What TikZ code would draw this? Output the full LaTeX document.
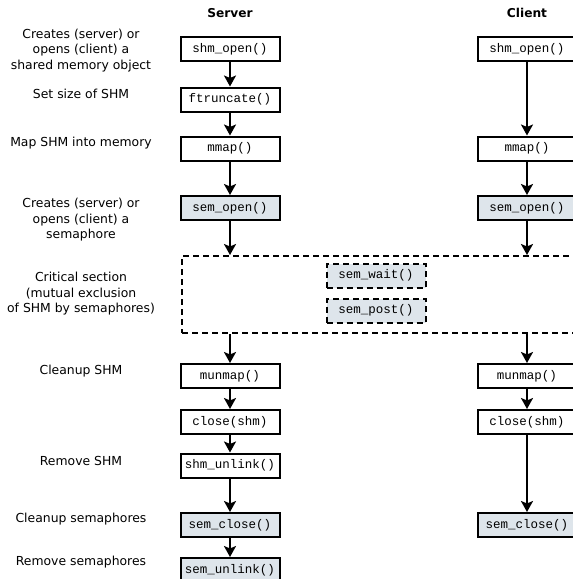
\documentclass[tikz,border=0pt]{standalone}
\usepackage{fontspec}
\setmainfont{DejaVu Sans}
\newfontfamily\codefont{Liberation Mono}
\usetikzlibrary{arrows.meta,positioning}
\definecolor{semfill}{RGB}{222,229,235}
\tikzset{
  fn/.style={draw, line width=2pt, minimum width=99pt, minimum height=24pt,
    inner sep=0pt, font=\codefont\fontsize{12.5}{14}\selectfont, fill=white},
  semfn/.style={fn, fill=semfill},
  dashfn/.style={fn, fill=semfill, dash pattern=on 6pt off 4pt},
  lbl/.style={align=center, font=\fontsize{12.4}{15.5}\selectfont, inner sep=0pt},
  ttl/.style={font=\bfseries\fontsize{12.2}{14}\selectfont, inner sep=0pt},
  arr/.style={line width=2pt, -{Stealth[width=12pt,length=11pt,inset=2.5pt]}},
  crit/.style={draw, line width=2pt, dash pattern=on 6pt off 4pt, inner sep=0pt}
}
\begin{document}
\begin{tikzpicture}[x=1pt,y=-1pt]
\clip (0,0) rectangle (573,579);
% titles
\node[ttl] (ts) at (230,13) {Server};
\node[ttl] (tc) at (527,13) {Client};
% left labels
\node[lbl] (l1) at (81,50.5) {Creates (server) or\\opens (client) a\\shared memory object};
\node[lbl] (l2) at (81,94) {Set size of SHM};
\node[lbl] (l3) at (81,143) {Map SHM into memory};
\node[lbl] (l4) at (81,220) {Creates (server) or\\opens (client) a\\semaphore};
\node[lbl] (l5) at (81,294) {Critical section\\(mutual exclusion\\of SHM by semaphores)};
\node[lbl] (l6) at (81,371) {Cleanup SHM};
\node[lbl] (l7) at (81,461) {Remove SHM};
\node[lbl] (l8) at (81,519) {Cleanup semaphores};
\node[lbl] (l9) at (81,562) {Remove semaphores};
% critical section box
\node[crit, minimum width=480pt, minimum height=77pt, anchor=north west] (cs) at (181,255) {};
\node[dashfn] (wait) at (376,275.5) {sem\_wait()};
\node[dashfn] (post) at (376,310.5) {sem\_post()};
% server
\node[fn] (sshm) at (230,49) {shm\_open()};
\node[fn] (strunc) at (230,99.5) {ftruncate()};
\node[fn] (smmap) at (230,148.5) {mmap()};
\node[semfn] (ssem) at (230,208) {sem\_open()};
\node[fn] (sunmap) at (230,376) {munmap()};
\node[fn] (sclose) at (230,422) {close(shm)};
\node[fn] (sunlink) at (230,465.5) {shm\_unlink()};
\node[semfn] (ssclose) at (230,525) {sem\_close()};
\node[semfn] (ssunlink) at (230,570) {sem\_unlink()};
% client
\node[fn] (cshm) at (527,49) {shm\_open()};
\node[fn] (cmmap) at (527,148.5) {mmap()};
\node[semfn] (csem) at (527,208) {sem\_open()};
\node[fn] (cunmap) at (527,376) {munmap()};
\node[fn] (cclose) at (527,422) {close(shm)};
\node[semfn] (csclose) at (527,525) {sem\_close()};
% server arrows
\draw[arr] (sshm) -- (strunc);
\draw[arr] (strunc) -- (smmap);
\draw[arr] (smmap) -- (ssem);
\draw[arr] (ssem) -- (ssem |- cs.north);
\draw[arr] (ssem |- cs.south) -- (sunmap);
\draw[arr] (sunmap) -- (sclose);
\draw[arr] (sclose) -- (sunlink);
\draw[arr] (sunlink) -- (ssclose);
\draw[arr] (ssclose) -- (ssunlink);
% client arrows
\draw[arr] (cshm) -- (cmmap);
\draw[arr] (cmmap) -- (csem);
\draw[arr] (csem) -- (csem |- cs.north);
\draw[arr] (csem |- cs.south) -- (cunmap);
\draw[arr] (cunmap) -- (cclose);
\draw[arr] (cclose) -- (csclose);
\end{tikzpicture}
\end{document}
